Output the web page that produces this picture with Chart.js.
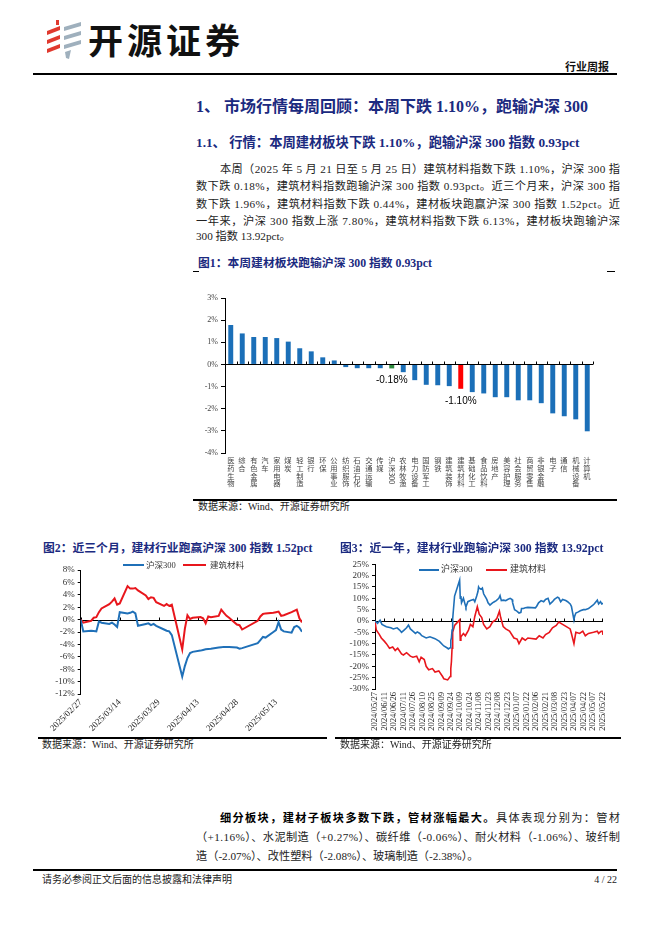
<!DOCTYPE html>
<html>
<head>
<meta charset="utf-8">
<script src="https://cdn.jsdelivr.net/npm/chart.js@4.4.1/dist/chart.umd.min.js"></script>
<style>
  body { margin: 0; background: #fff; }
  #page { position: relative; width: 662px; height: 936px; overflow: hidden;
          font-family: 'Liberation Serif', 'Noto Sans CJK SC', serif; color: #222; }
  .abs { position: absolute; white-space: nowrap; }
  .navy { color: #1b2a80; font-weight: bold; }
  .jl span { white-space: nowrap; }
  .rule { position: absolute; background: #000; }
  .src { position: absolute; font-size: 10px; line-height: 14px; color: #222; white-space: nowrap; }
  .lgline { position: absolute; height: 2px; }
  .lgtxt { position: absolute; font-size: 8.5px; line-height: 12px; color: #333; white-space: nowrap; }
</style>
</head>
<body>
<div id="page">

  <!-- en-tête -->
  <svg class="abs" style="left:45px;top:19px" width="40" height="42" viewBox="0 0 40 42">
    <rect x="11" y="1" width="3" height="5" fill="#e0392e"/>
    <polygon points="2,12 15,7 15,11 2,16" fill="#e0392e"/>
    <polygon points="2,21 15,16 15,20 2,25" fill="#e0392e"/>
    <polygon points="2,30 15,25 15,29 2,34" fill="#e0392e"/>
    <polygon points="19,8 36,3 36,7 19,12" fill="#9fb0bd"/>
    <polygon points="19,17 36,12 36,16 19,21" fill="#9fb0bd"/>
    <polygon points="19,26 36,21 36,25 19,30" fill="#9fb0bd"/>
    <polygon points="20,33 26,31 24,40 21,39" fill="#9fb0bd"/>
  </svg>
  <div class="abs" style="left:88px;top:17px;font:700 35px/44px 'Noto Sans CJK SC';letter-spacing:4px;color:#111">开源证券</div>
  <div class="abs" style="left:565px;top:59px;font:700 11px/14px 'Noto Sans CJK SC';color:#111">行业周报</div>
  <div class="rule" style="left:33px;top:73px;width:584px;height:1.5px"></div>

  <!-- titres -->
  <div class="abs navy" style="left:196px;top:97px;font-size:16px;line-height:20px">1、 市场行情每周回顾：本周下跌 1.10%，跑输沪深 300</div>
  <div class="abs navy" style="left:196px;top:134px;font-size:13.3px;line-height:18px">1.1、 行情：本周建材板块下跌 1.10%，跑输沪深 300 指数 0.93pct</div>

  <div class="abs jl" style="left:220px;top:161px;width:400px;font-size:11.2px;line-height:17px"><span>本周（2025 年 5 月 21 日至 5 月 25 日）建筑材料指数下跌 1.10%，沪深 300 指</span></div>
  <div class="abs jl" style="left:196px;top:178px;width:424px;font-size:11.2px;line-height:17px"><span>数下跌 0.18%，建筑材料指数跑输沪深 300 指数 0.93pct。近三个月来，沪深 300 指</span></div>
  <div class="abs jl" style="left:196px;top:196px;width:424px;font-size:11.2px;line-height:17px"><span>数下跌 1.96%，建筑材料指数下跌 0.44%，建材板块跑赢沪深 300 指数 1.52pct。近</span></div>
  <div class="abs jl" style="left:196px;top:212.5px;width:424px;font-size:11.2px;line-height:17px"><span>一年来，沪深 300 指数上涨 7.80%，建筑材料指数下跌 6.13%，建材板块跑输沪深</span></div>
  <div class="abs" style="left:196px;top:228px;font-size:11.2px;line-height:17px">300 指数 13.92pct。</div>

  <!-- figure 1 -->
  <div class="abs navy" style="left:198px;top:255px;font-size:11.8px;line-height:16px">图1：本周建材板块跑输沪深 300 指数 0.93pct</div>
  <div class="rule" style="left:193px;top:271px;width:6px;height:1px"></div>
  <div class="rule" style="left:607px;top:271px;width:8px;height:1px"></div>
  <div class="abs" style="left:195px;top:285px;width:420px;height:210px"><canvas id="fig1" width="420" height="210"></canvas></div>
  <div class="rule" style="left:193px;top:499px;width:424px;height:1.5px"></div>
  <div class="src" style="left:198px;top:500px">数据来源：Wind、开源证券研究所</div>

  <!-- figure 2 -->
  <div class="abs navy" style="left:43px;top:540px;font-size:11.8px;line-height:16px">图2：近三个月，建材行业跑赢沪深 300 指数 1.52pct</div>
  <div class="abs" style="left:40px;top:558px;width:285px;height:178px"><canvas id="fig2" width="285" height="178"></canvas></div>
  <div class="lgline" style="left:123px;top:564px;width:21px;background:#1f70b8"></div>
  <div class="lgtxt" style="left:146px;top:559px">沪深300</div>
  <div class="lgline" style="left:183px;top:564px;width:23px;background:#e8161c"></div>
  <div class="lgtxt" style="left:210px;top:559px">建筑材料</div>
  <div class="rule" style="left:38px;top:737px;width:289px;height:1.5px"></div>
  <div class="src" style="left:42px;top:738px">数据来源：Wind、开源证券研究所</div>

  <!-- figure 3 -->
  <div class="abs navy" style="left:340px;top:540px;font-size:11.8px;line-height:16px">图3：近一年，建材行业跑输沪深 300 指数 13.92pct</div>
  <div class="abs" style="left:335px;top:555px;width:285px;height:183px"><canvas id="fig3" width="285" height="183"></canvas></div>
  <div class="lgline" style="left:419px;top:568.5px;width:20px;background:#1f70b8"></div>
  <div class="lgtxt" style="left:441px;top:563px;font-size:9px">沪深300</div>
  <div class="lgline" style="left:486px;top:568.5px;width:21px;background:#e8161c"></div>
  <div class="lgtxt" style="left:510px;top:563px;font-size:9px">建筑材料</div>
  <div class="rule" style="left:335px;top:737px;width:286px;height:1.5px"></div>
  <div class="src" style="left:340px;top:738px">数据来源：Wind、开源证券研究所</div>

  <!-- texte du bas -->
  <div class="abs jl" style="left:220px;top:808.5px;width:400px;font-size:11.2px;line-height:17px"><span><b style="font-family:'Noto Sans CJK SC';color:#000">细分板块，建材子板块多数下跌，管材涨幅最大。</b>具体表现分别为：管材</span></div>
  <div class="abs jl" style="left:196px;top:828.5px;width:424px;font-size:11.2px;line-height:17px"><span>（+1.16%）、水泥制造（+0.27%）、碳纤维（-0.06%）、耐火材料（-1.06%）、玻纤制</span></div>
  <div class="abs" style="left:196px;top:848px;font-size:11.2px;line-height:17px">造（-2.07%）、改性塑料（-2.08%）、玻璃制造（-2.38%）。</div>

  <!-- pied de page -->
  <div class="rule" style="left:33px;top:869px;width:584px;height:1.5px"></div>
  <div class="src" style="left:42px;top:873px">请务必参阅正文后面的信息披露和法律声明</div>
  <div class="src" style="left:590px;top:873px;width:27px;text-align:right">4 / 22</div>
</div>

<script>
// --- Données ---

// Figure 1 : variation hebdomadaire par secteur (%)
const industries = ['医药生物', '综合', '有色金属', '汽车', '家用电器', '煤炭', '轻工制造', '银行',
    '环保', '公用事业', '纺织服饰', '石油石化', '交通运输', '传媒', '沪深300', '农林牧渔',
    '电力设备', '国防军工', '钢铁', '建筑装饰', '建筑材料', '基础化工', '食品饮料', '房地产',
    '美容护理', '社会服务', '商贸零售', '非银金融', '电子', '通信', '机械设备', '计算机'];
const weekChange = [1.78, 1.40, 1.24, 1.24, 1.19, 1.03, 0.73, 0.59,
    0.32, 0.18, -0.12, -0.17, -0.17, -0.17, -0.18, -0.35,
    -0.71, -0.92, -0.94, -0.98, -1.10, -1.25, -1.31, -1.48,
    -1.48, -1.62, -1.62, -1.75, -2.21, -2.34, -2.48, -3.02];
const notedBars = ['沪深300', '建筑材料'];

// Figure 2 : trois derniers mois (%)
const dates3m = ['2025-02-27', '2025-02-28', '2025-03-03', '2025-03-04', '2025-03-05', '2025-03-06',
    '2025-03-07', '2025-03-10', '2025-03-11', '2025-03-12', '2025-03-13', '2025-03-14', '2025-03-17',
    '2025-03-18', '2025-03-19', '2025-03-20', '2025-03-21', '2025-03-24', '2025-03-25', '2025-03-26',
    '2025-03-27', '2025-03-28', '2025-03-31', '2025-04-01', '2025-04-02', '2025-04-03', '2025-04-07',
    '2025-04-08', '2025-04-09', '2025-04-10', '2025-04-11', '2025-04-14', '2025-04-15', '2025-04-16',
    '2025-04-17', '2025-04-18', '2025-04-21', '2025-04-22', '2025-04-23', '2025-04-24', '2025-04-25',
    '2025-04-28', '2025-04-29', '2025-04-30', '2025-05-06', '2025-05-07', '2025-05-08', '2025-05-09',
    '2025-05-12', '2025-05-13', '2025-05-14', '2025-05-15', '2025-05-16', '2025-05-19', '2025-05-20',
    '2025-05-21', '2025-05-22', '2025-05-23'];
const hs300_3m = [0, -1.9, -1.8, -1.85, -1.9, -0.3, -0.5, -0.7, -0.5, -0.8, -1.2, 1.2, 1.0, 1.1, 1.3,
    1.0, -1.0, -0.7, -0.6, -0.9, -0.7, -1.0, -1.6, -1.8, -1.9, -2.5, -9.2, -7.5, -6.2, -5.4, -5.2,
    -5.0, -4.9, -4.8, -4.75, -4.7, -4.5, -4.45, -4.4, -4.4, -4.4, -4.5, -4.7, -4.6, -3.8, -3.3, -2.8,
    -2.9, -2.0, -1.7, -0.4, -1.6, -1.9, -2.1, -1.2, -1.0, -1.3, -1.96];
const jczl_3m = [0, -0.5, -0.2, 0.3, 0.4, 1.2, 1.8, 2.5, 2.9, 3.4, 2.4, 2.6, 5.4, 5.0, 5.0, 5.1, 4.7,
    3.9, 3.3, 3.6, 3.5, 2.8, 2.2, 2.5, 2.2, 2.4, -4.8, -1.5, 0.7, 0.1, 0.3, 0.4, 0.2, -0.6, 0.5, 0.4,
    0.6, 1.6, 1.1, 0.6, 0.3, -0.8, -0.9, -1.6, -0.2, 0.5, 0.9, 1.0, 1.1, 1.2, 1.3, 0.6, 0.7, 1.2, 1.4,
    1.6, 0.2, -0.44];

// Figure 3 : dernière année (%)
const datesHs1y = ['2024-05-27', '2024-05-31', '2024-06-04', '2024-06-07', '2024-06-14', '2024-06-21',
    '2024-06-25', '2024-07-01', '2024-07-05', '2024-07-08', '2024-07-12', '2024-07-16', '2024-07-19',
    '2024-07-22', '2024-07-26', '2024-07-30', '2024-08-02', '2024-08-06', '2024-08-09', '2024-08-16',
    '2024-08-22', '2024-08-30', '2024-09-06', '2024-09-11', '2024-09-13', '2024-09-19', '2024-09-20',
    '2024-09-23', '2024-09-24', '2024-09-25', '2024-09-26', '2024-09-27', '2024-09-30', '2024-10-08',
    '2024-10-09', '2024-10-10', '2024-10-11', '2024-10-14', '2024-10-17', '2024-10-18', '2024-10-21',
    '2024-10-25', '2024-10-30', '2024-11-01', '2024-11-04', '2024-11-06', '2024-11-07', '2024-11-08',
    '2024-11-11', '2024-11-13', '2024-11-15', '2024-11-18', '2024-11-20', '2024-11-22', '2024-11-25',
    '2024-11-29', '2024-12-02', '2024-12-05', '2024-12-09', '2024-12-11', '2024-12-13', '2024-12-16',
    '2024-12-20', '2024-12-23', '2024-12-27', '2024-12-30', '2024-12-31', '2025-01-03', '2025-01-06',
    '2025-01-08', '2025-01-10', '2025-01-13', '2025-01-14', '2025-01-17', '2025-01-20', '2025-01-24',
    '2025-02-05', '2025-02-07', '2025-02-10', '2025-02-14', '2025-02-18', '2025-02-21', '2025-02-25',
    '2025-02-28', '2025-03-04', '2025-03-07', '2025-03-12', '2025-03-14', '2025-03-17', '2025-03-20',
    '2025-03-25', '2025-03-28', '2025-04-01', '2025-04-03', '2025-04-07', '2025-04-08', '2025-04-10',
    '2025-04-14', '2025-04-17', '2025-04-22', '2025-04-25', '2025-04-30', '2025-05-07', '2025-05-09',
    '2025-05-14', '2025-05-16', '2025-05-19', '2025-05-21', '2025-05-23'];
const hs300_1y = [0, -1.0, 0.3, -1.5, -2.5, -3.0, -3.5, -3.0, -4.0, -5.0, -4.0, -3.0, -1.8, -3.5, -4.5,
    -5.5, -4.8, -5.5, -6.5, -7.5, -7.0, -7.8, -9.0, -10.5, -11.0, -12.0, -12.3, -11.8, -8.5, -7.5,
    -4.0, 1.0, 11.0, 18.0, 10.0, 11.0, 8.0, 10.0, 7.0, 6.2, 8.5, 9.0, 9.5, 8.5, 11.0, 13.0, 15.0, 14.5,
    14.0, 14.5, 12.0, 10.5, 9.5, 8.0, 7.0, 8.0, 8.5, 9.0, 10.0, 11.2, 9.0, 9.2, 9.0, 9.5, 10.0, 9.5,
    8.0, 5.0, 4.5, 4.0, 3.5, 3.8, 5.5, 5.5, 5.8, 6.0, 5.8, 6.5, 8.0, 9.0, 8.5, 9.5, 10.0, 7.5, 8.5,
    9.5, 10.5, 10.2, 8.5, 9.5, 9.0, 8.5, 7.5, 6.5, 0.5, 2.0, 3.5, 4.0, 4.5, 5.0, 5.0, 5.5, 7.0, 7.5,
    9.2, 7.5, 8.5, 7.5, 7.8];
const datesJc1y = ['2024-05-27', '2024-05-29', '2024-06-03', '2024-06-06', '2024-06-11', '2024-06-14',
    '2024-06-19', '2024-06-24', '2024-06-28', '2024-07-02', '2024-07-08', '2024-07-11', '2024-07-16',
    '2024-07-22', '2024-07-26', '2024-08-01', '2024-08-05', '2024-08-08', '2024-08-13', '2024-08-16',
    '2024-08-20', '2024-08-26', '2024-08-30', '2024-09-05', '2024-09-11', '2024-09-13', '2024-09-19',
    '2024-09-23', '2024-09-24', '2024-09-25', '2024-09-26', '2024-09-27', '2024-09-30', '2024-10-08',
    '2024-10-09', '2024-10-10', '2024-10-14', '2024-10-17', '2024-10-22', '2024-10-25', '2024-10-29',
    '2024-11-01', '2024-11-05', '2024-11-08', '2024-11-12', '2024-11-15', '2024-11-20', '2024-11-25',
    '2024-11-29', '2024-12-04', '2024-12-06', '2024-12-10', '2024-12-12', '2024-12-16', '2024-12-20',
    '2024-12-26', '2025-01-02', '2025-01-07', '2025-01-10', '2025-01-15', '2025-01-20', '2025-01-24',
    '2025-02-06', '2025-02-11', '2025-02-17', '2025-02-21', '2025-02-27', '2025-03-04', '2025-03-10',
    '2025-03-14', '2025-03-20', '2025-03-26', '2025-04-01', '2025-04-03', '2025-04-07', '2025-04-10',
    '2025-04-16', '2025-04-21', '2025-04-25', '2025-04-30', '2025-05-08', '2025-05-14', '2025-05-16',
    '2025-05-20', '2025-05-22', '2025-05-23'];
const jczl_1y = [0, -4.0, -6.0, -7.5, -9.0, -10.0, -12.0, -11.5, -13.0, -12.0, -14.5, -15.0, -14.0,
    -15.5, -16.0, -15.5, -18.0, -16.0, -17.0, -20.0, -21.5, -21.0, -22.5, -22.0, -24.5, -25.5, -26.0,
    -24.5, -21.0, -18.0, -12.0, -5.0, -2.0, 0.5, -8.5, -7.0, -5.5, -6.5, -4.0, -1.5, -2.5, 2.0, 6.3,
    3.0, 1.5, -1.5, -3.5, -2.5, -0.5, 0.5, 1.2, 4.3, 1.5, -2.5, -3.5, -4.5, -7.5, -8.0, -10.0, -7.5,
    -8.5, -7.5, -8.0, -6.5, -7.5, -6.0, -5.0, -3.0, -2.0, -0.5, -1.5, -2.5, -3.5, -5.5, -10.0, -5.0,
    -5.5, -4.5, -6.5, -5.5, -5.0, -4.5, -5.5, -4.5, -4.5, -6.13];

// --- Utilitaires ---
const BLUE = '#1f70b8';
const RED = '#e8161c';
const DAY = 86400000;

function dayOffset(s, base) {
    return (Date.parse(s + 'T00:00:00Z') - Date.parse(base + 'T00:00:00Z')) / DAY;
}
function fmtDay(base, n) {
    const d = new Date(Date.parse(base + 'T00:00:00Z') + n * DAY);
    const p = v => String(v).padStart(2, '0');
    return d.getUTCFullYear() + '/' + p(d.getUTCMonth() + 1) + '/' + p(d.getUTCDate());
}
function toPoints(dates, values, base) {
    return dates.map((d, i) => ({ x: dayOffset(d, base), y: values[i] }));
}

// écriture verticale : idéogrammes droits, texte latin tourné
function drawVertical(ctx, text, cx, top, size) {
    let y = top;
    text.match(/[\x00-\x7f]+|[^\x00-\x7f]/g).forEach(run => {
        if (/^[\x00-\x7f]+$/.test(run)) {
            ctx.save();
            ctx.translate(cx, y);
            ctx.rotate(Math.PI / 2);
            ctx.textAlign = 'left';
            ctx.textBaseline = 'middle';
            ctx.fillText(run, 0, 0);
            ctx.restore();
            y += ctx.measureText(run).width + 1;
        } else {
            ctx.textAlign = 'center';
            ctx.textBaseline = 'top';
            ctx.fillText(run, cx, y);
            y += size;
        }
    });
}

Chart.defaults.font.family = "'Liberation Serif', 'Noto Sans CJK SC', serif";
Chart.defaults.color = '#333';
Chart.defaults.animation = false;

// ligne du zéro + petites graduations (fig. 2 et 3)
const zeroAxis = {
    id: 'zeroAxis',
    beforeDatasetsDraw(chart) {
        const { ctx, chartArea: a, scales: { x, y } } = chart;
        const y0 = Math.round(y.getPixelForValue(0)) + 0.5;
        ctx.save();
        ctx.strokeStyle = '#000';
        ctx.lineWidth = 1;
        ctx.beginPath();
        ctx.moveTo(a.left, y0);
        ctx.lineTo(a.right, y0);
        x.ticks.forEach(t => {
            const px = Math.round(x.getPixelForValue(t.value)) + 0.5;
            ctx.moveTo(px, y0);
            ctx.lineTo(px, y0 - 3);
        });
        ctx.stroke();
        ctx.restore();
    }
};

// axe, étiquettes verticales et valeurs notées (fig. 1)
const fig1Decor = {
    id: 'fig1Decor',
    afterDatasetsDraw(chart) {
        const { ctx, chartArea: a, scales: { x, y } } = chart;
        const y0 = Math.round(y.getPixelForValue(0)) + 0.5;
        ctx.save();
        ctx.strokeStyle = '#000';
        ctx.lineWidth = 1;
        ctx.beginPath();
        ctx.moveTo(a.left, y0);
        ctx.lineTo(a.right, y0);
        for (let i = 0; i <= industries.length; i++) {
            const px = Math.round(x.getPixelForValue(i - 0.5)) + 0.5;
            ctx.moveTo(px, y0);
            ctx.lineTo(px, y0 - 3);
        }
        ctx.stroke();

        ctx.fillStyle = '#444';
        ctx.font = "7.3px 'Noto Sans CJK SC'";
        industries.forEach((name, i) => {
            drawVertical(ctx, name, Math.round(x.getPixelForValue(i)), a.bottom + 4, 7.6);
        });

        ctx.fillStyle = '#000';
        ctx.font = "10px 'Liberation Sans'";
        ctx.textAlign = 'center';
        ctx.textBaseline = 'middle';
        notedBars.forEach(name => {
            const i = industries.indexOf(name);
            const v = weekChange[i];
            ctx.fillText(v.toFixed(2) + '%', x.getPixelForValue(i), y.getPixelForValue(v) + 12);
        });
        ctx.restore();
    }
};

// --- Figure 1 ---
new Chart(document.getElementById('fig1'), {
    type: 'bar',
    data: {
        labels: industries,
        datasets: [{
            data: weekChange,
            backgroundColor: industries.map(n => n === '建筑材料' ? '#ff0000' : n === '沪深300' ? '#2e8b3e' : '#1b6fb8'),
            categoryPercentage: 1,
            barPercentage: 0.43
        }]
    },
    options: {
        responsive: false,
        layout: { padding: { top: 13, right: 22, left: 0, bottom: 0 } },
        plugins: { legend: { display: false }, tooltip: { enabled: false } },
        scales: {
            x: {
                grid: { display: false, drawTicks: false },
                border: { display: false },
                ticks: { display: false },
                afterFit: s => { s.height = 42; }
            },
            y: {
                min: -4, max: 3,
                ticks: { stepSize: 1, autoSkip: false, callback: v => v + '%', font: { size: 8 }, color: '#444', padding: 3 },
                grid: { drawOnChartArea: false, tickLength: 4, color: '#000' },
                border: { display: true, color: '#000', width: 1 },
                afterFit: s => { s.width = 30; }
            }
        }
    },
    plugins: [fig1Decor]
});

// --- Figure 2 ---
const base3m = dates3m[0];
const end3m = dayOffset(dates3m[dates3m.length - 1], base3m);
new Chart(document.getElementById('fig2'), {
    type: 'line',
    data: {
        datasets: [
            { label: '沪深300', data: toPoints(dates3m, hs300_3m, base3m), borderColor: BLUE, borderWidth: 2, pointRadius: 0 },
            { label: '建筑材料', data: toPoints(dates3m, jczl_3m, base3m), borderColor: RED, borderWidth: 2, pointRadius: 0 }
        ]
    },
    options: {
        responsive: false,
        layout: { padding: { top: 12, right: 23, left: 0, bottom: 0 } },
        plugins: { legend: { display: false }, tooltip: { enabled: false } },
        scales: {
            x: {
                type: 'linear', min: 0, max: end3m,
                grid: { display: false, drawTicks: false },
                border: { display: false },
                ticks: { stepSize: 15, includeBounds: false, autoSkip: false, maxRotation: 45, minRotation: 45,
                         padding: 3, font: { size: 9 }, color: '#222', callback: v => fmtDay(base3m, v) },
                afterFit: s => { s.height = 42; }
            },
            y: {
                min: -12, max: 8,
                ticks: { stepSize: 2, autoSkip: false, callback: v => v + '%', font: { size: 9 }, color: '#333', padding: 3 },
                grid: { drawOnChartArea: false, tickLength: 3, color: '#000' },
                border: { display: true, color: '#000', width: 1 },
                afterFit: s => { s.width = 40.7; }
            }
        }
    },
    plugins: [zeroAxis]
});

// --- Figure 3 ---
const base1y = datesHs1y[0];
const end1y = dayOffset(datesHs1y[datesHs1y.length - 1], base1y);
new Chart(document.getElementById('fig3'), {
    type: 'line',
    data: {
        datasets: [
            { label: '沪深300', data: toPoints(datesHs1y, hs300_1y, base1y), borderColor: BLUE, borderWidth: 1.6, pointRadius: 0 },
            { label: '建筑材料', data: toPoints(datesJc1y, jczl_1y, base1y), borderColor: RED, borderWidth: 1.6, pointRadius: 0 }
        ]
    },
    options: {
        responsive: false,
        layout: { padding: { top: 9.3, right: 17, left: 0, bottom: 0 } },
        plugins: { legend: { display: false }, tooltip: { enabled: false } },
        scales: {
            x: {
                type: 'linear', min: 0, max: end1y,
                grid: { display: false, drawTicks: false },
                border: { display: false },
                ticks: { stepSize: 15, includeBounds: false, autoSkip: false, maxRotation: 90, minRotation: 90,
                         padding: 3, font: { size: 8.5 }, color: '#222', callback: v => fmtDay(base1y, v) },
                afterFit: s => { s.height = 49; }
            },
            y: {
                min: -30, max: 25,
                ticks: { stepSize: 5, autoSkip: false, callback: v => v + '%', font: { size: 9 }, color: '#333', padding: 3 },
                grid: { drawOnChartArea: false, tickLength: 3, color: '#000' },
                border: { display: true, color: '#000', width: 1 },
                afterFit: s => { s.width = 40; }
            }
        }
    },
    plugins: [zeroAxis]
});

// --- Justification des lignes de texte ---
function fitLines() {
    document.querySelectorAll('.jl').forEach(el => {
        const s = el.firstElementChild;
        s.style.letterSpacing = '0px';
        const w = s.getBoundingClientRect().width;
        const n = [...s.textContent].length;
        s.style.letterSpacing = ((el.clientWidth - w) / (n - 1)) + 'px';
    });
}
fitLines();
if (document.fonts) document.fonts.ready.then(fitLines);
</script>
</body>
</html>
